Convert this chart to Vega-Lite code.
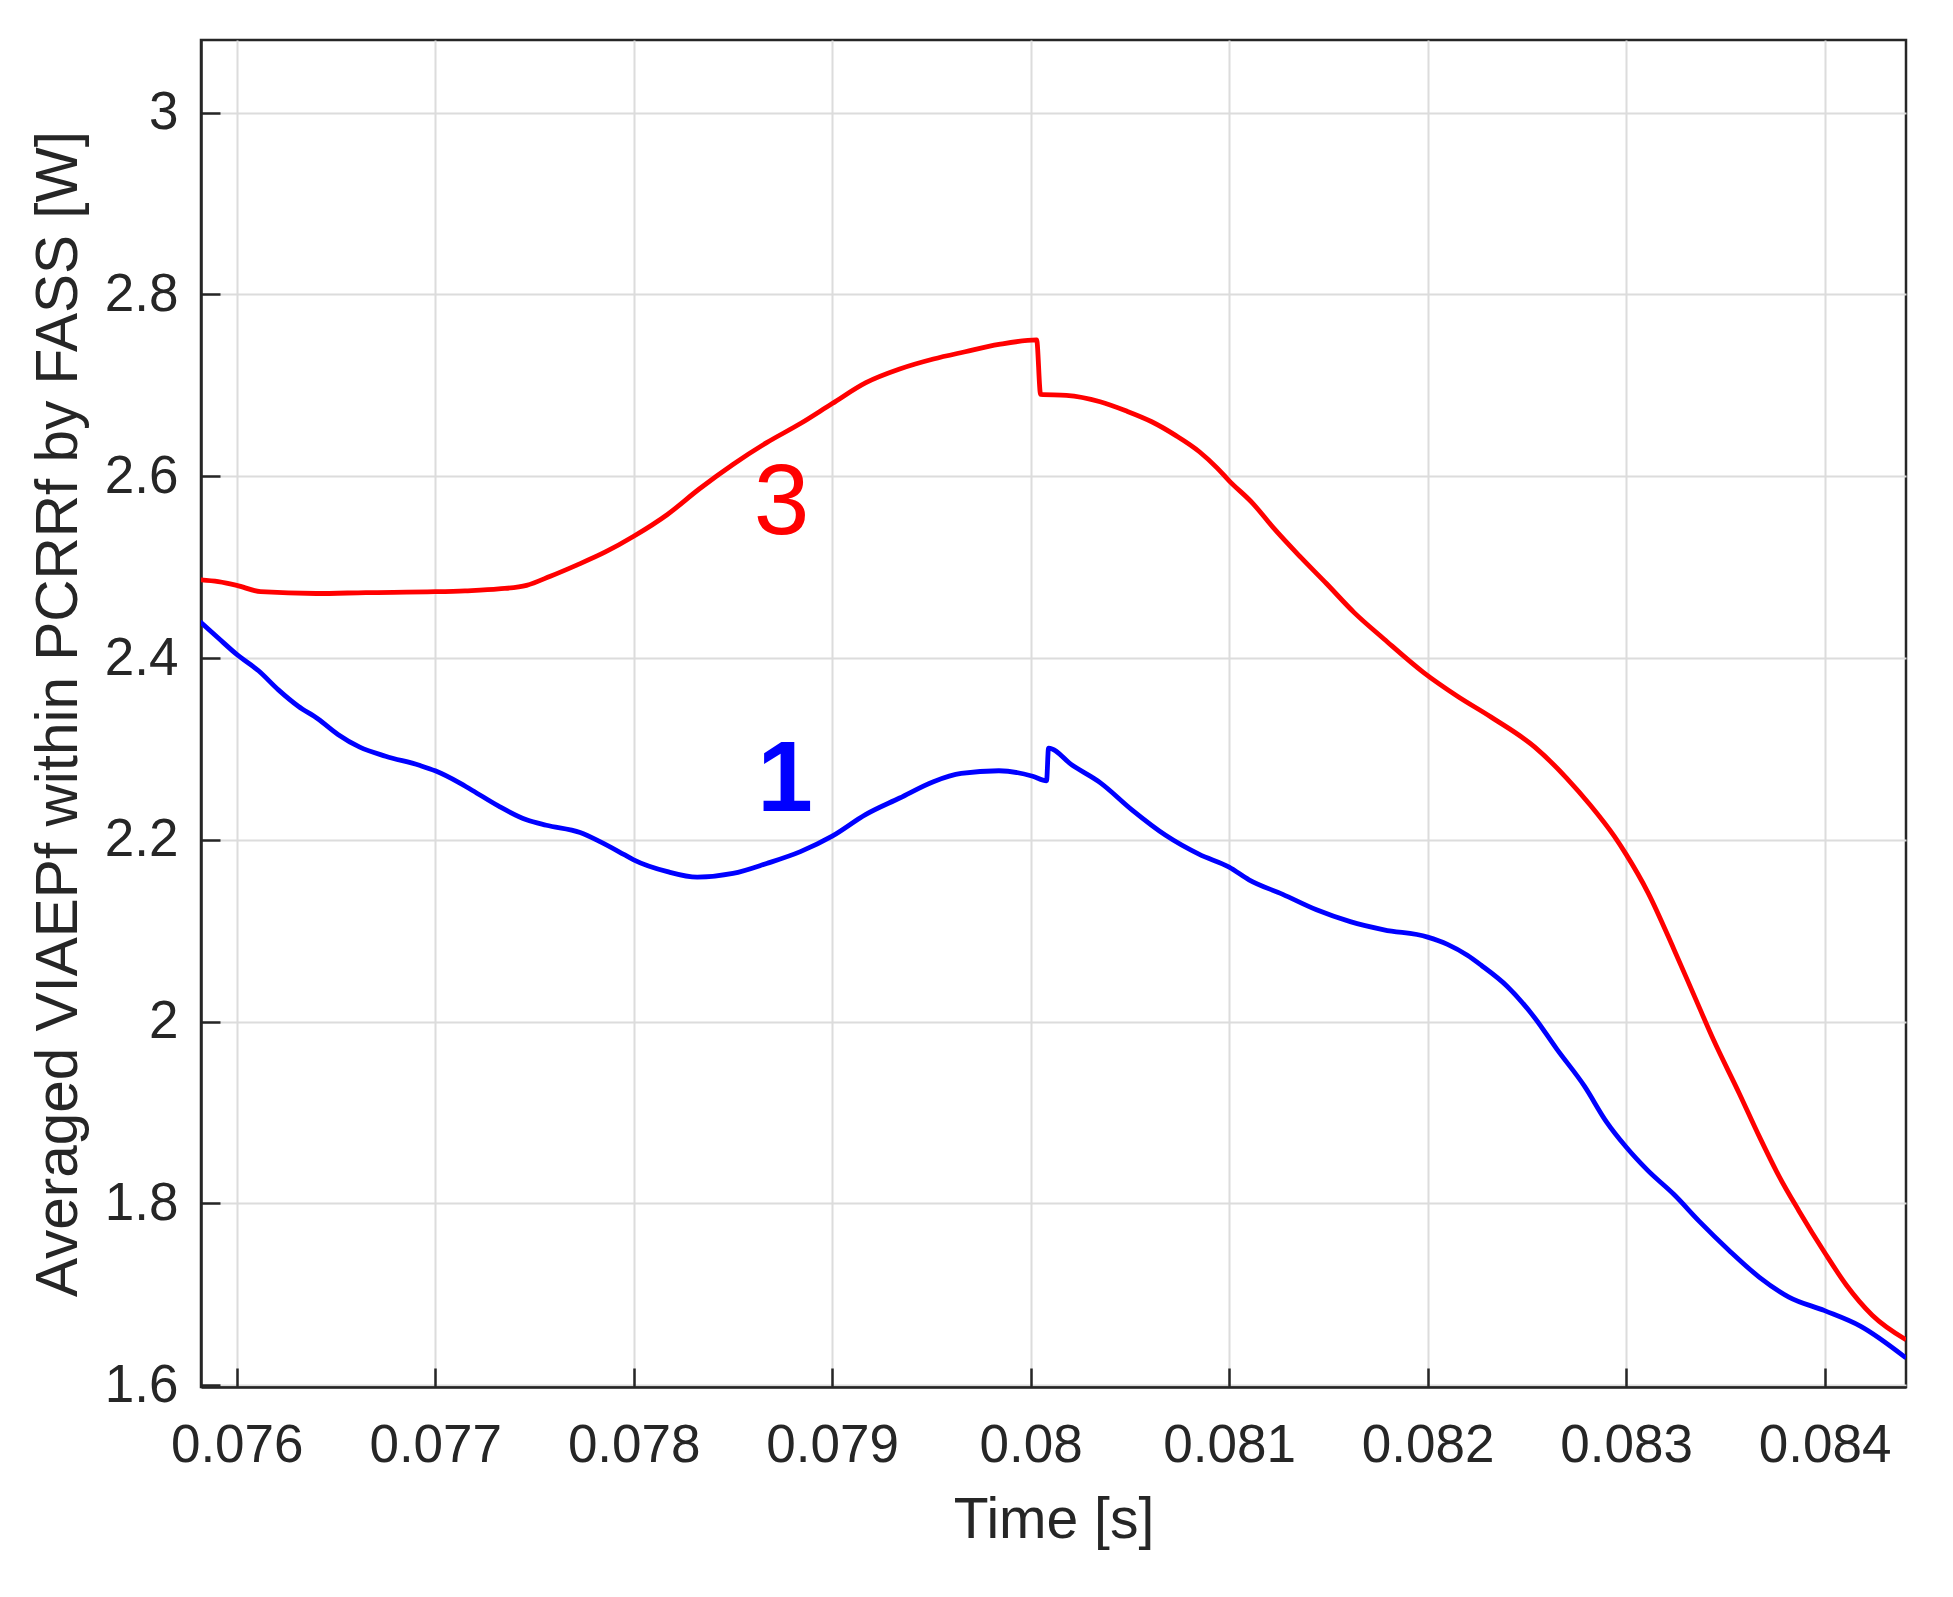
{
  "$schema": "https://vega.github.io/schema/vega-lite/v6.json",
  "autosize": {"type": "none"},
  "width": 1705,
  "height": 1347,
  "padding": {"left": 201, "top": 40, "right": 47, "bottom": 210},
  "background": "white",
  "config": {
    "view": {"stroke": "#262626", "strokeWidth": 2.5},
    "font": "Liberation Sans",
    "axis": {
      "labelFont": "Liberation Sans",
      "titleFont": "Liberation Sans",
      "labelColor": "#262626",
      "titleColor": "#262626",
      "labelFontSize": 53,
      "titleFontSize": 57,
      "titleFontWeight": "normal",
      "domainColor": "#262626",
      "domainWidth": 2.5,
      "tickColor": "#262626",
      "tickWidth": 2.5,
      "tickSize": -19,
      "grid": true,
      "gridColor": "#dcdcdc",
      "gridWidth": 2
    }
  },
  "datasets": {
    "curves": [
      {"series": "3", "t": 0.075815, "v": 2.486},
      {"series": "3", "t": 0.075907, "v": 2.484},
      {"series": "3", "t": 0.076, "v": 2.480},
      {"series": "3", "t": 0.07612, "v": 2.473},
      {"series": "3", "t": 0.0764, "v": 2.471},
      {"series": "3", "t": 0.07665, "v": 2.472},
      {"series": "3", "t": 0.077, "v": 2.473},
      {"series": "3", "t": 0.07715, "v": 2.474},
      {"series": "3", "t": 0.07732, "v": 2.476},
      {"series": "3", "t": 0.07746, "v": 2.480},
      {"series": "3", "t": 0.07758, "v": 2.490},
      {"series": "3", "t": 0.07771, "v": 2.502},
      {"series": "3", "t": 0.07786, "v": 2.517},
      {"series": "3", "t": 0.078, "v": 2.534},
      {"series": "3", "t": 0.07817, "v": 2.558},
      {"series": "3", "t": 0.07833, "v": 2.586},
      {"series": "3", "t": 0.0785, "v": 2.613},
      {"series": "3", "t": 0.07867, "v": 2.637},
      {"series": "3", "t": 0.07884, "v": 2.658},
      {"series": "3", "t": 0.079, "v": 2.680},
      {"series": "3", "t": 0.07917, "v": 2.703},
      {"series": "3", "t": 0.07934, "v": 2.718},
      {"series": "3", "t": 0.07951, "v": 2.729},
      {"series": "3", "t": 0.07967, "v": 2.737},
      {"series": "3", "t": 0.07984, "v": 2.745},
      {"series": "3", "t": 0.08003, "v": 2.750},
      {"series": "3", "t": 0.08005, "v": 2.690},
      {"series": "3", "t": 0.08018, "v": 2.689},
      {"series": "3", "t": 0.08035, "v": 2.682},
      {"series": "3", "t": 0.08048, "v": 2.672},
      {"series": "3", "t": 0.08061, "v": 2.660},
      {"series": "3", "t": 0.08073, "v": 2.645},
      {"series": "3", "t": 0.08085, "v": 2.627},
      {"series": "3", "t": 0.08094, "v": 2.609},
      {"series": "3", "t": 0.081, "v": 2.595},
      {"series": "3", "t": 0.08112, "v": 2.570},
      {"series": "3", "t": 0.08122, "v": 2.544},
      {"series": "3", "t": 0.08136, "v": 2.511},
      {"series": "3", "t": 0.08149, "v": 2.482},
      {"series": "3", "t": 0.08163, "v": 2.450},
      {"series": "3", "t": 0.08178, "v": 2.421},
      {"series": "3", "t": 0.08198, "v": 2.384},
      {"series": "3", "t": 0.08215, "v": 2.358},
      {"series": "3", "t": 0.08232, "v": 2.335},
      {"series": "3", "t": 0.08254, "v": 2.302},
      {"series": "3", "t": 0.0827, "v": 2.268},
      {"series": "3", "t": 0.08282, "v": 2.238},
      {"series": "3", "t": 0.08294, "v": 2.204},
      {"series": "3", "t": 0.083, "v": 2.184},
      {"series": "3", "t": 0.08311, "v": 2.142},
      {"series": "3", "t": 0.08324, "v": 2.080},
      {"series": "3", "t": 0.08334, "v": 2.030},
      {"series": "3", "t": 0.08344, "v": 1.980},
      {"series": "3", "t": 0.08357, "v": 1.921},
      {"series": "3", "t": 0.08367, "v": 1.874},
      {"series": "3", "t": 0.08377, "v": 1.830},
      {"series": "3", "t": 0.08387, "v": 1.792},
      {"series": "3", "t": 0.084, "v": 1.746},
      {"series": "3", "t": 0.08411, "v": 1.710},
      {"series": "3", "t": 0.08424, "v": 1.677},
      {"series": "3", "t": 0.08441, "v": 1.650},
      {"series": "1", "t": 0.075815, "v": 2.440},
      {"series": "1", "t": 0.075907, "v": 2.422},
      {"series": "1", "t": 0.076, "v": 2.404},
      {"series": "1", "t": 0.07611, "v": 2.386},
      {"series": "1", "t": 0.07621, "v": 2.365},
      {"series": "1", "t": 0.07631, "v": 2.347},
      {"series": "1", "t": 0.07641, "v": 2.333},
      {"series": "1", "t": 0.07651, "v": 2.316},
      {"series": "1", "t": 0.07662, "v": 2.302},
      {"series": "1", "t": 0.07675, "v": 2.292},
      {"series": "1", "t": 0.07692, "v": 2.282},
      {"series": "1", "t": 0.077, "v": 2.276},
      {"series": "1", "t": 0.07712, "v": 2.263},
      {"series": "1", "t": 0.07719, "v": 2.254},
      {"series": "1", "t": 0.07732, "v": 2.237},
      {"series": "1", "t": 0.07746, "v": 2.222},
      {"series": "1", "t": 0.07756, "v": 2.216},
      {"series": "1", "t": 0.07773, "v": 2.208},
      {"series": "1", "t": 0.07783, "v": 2.198},
      {"series": "1", "t": 0.07795, "v": 2.184},
      {"series": "1", "t": 0.078, "v": 2.178},
      {"series": "1", "t": 0.07817, "v": 2.165},
      {"series": "1", "t": 0.07832, "v": 2.159},
      {"series": "1", "t": 0.0785, "v": 2.163},
      {"series": "1", "t": 0.07867, "v": 2.174},
      {"series": "1", "t": 0.07884, "v": 2.187},
      {"series": "1", "t": 0.079, "v": 2.204},
      {"series": "1", "t": 0.07917, "v": 2.228},
      {"series": "1", "t": 0.07934, "v": 2.246},
      {"series": "1", "t": 0.07951, "v": 2.264},
      {"series": "1", "t": 0.07965, "v": 2.273},
      {"series": "1", "t": 0.07984, "v": 2.276},
      {"series": "1", "t": 0.08001, "v": 2.270},
      {"series": "1", "t": 0.08008, "v": 2.265},
      {"series": "1", "t": 0.08009, "v": 2.301},
      {"series": "1", "t": 0.08021, "v": 2.282},
      {"series": "1", "t": 0.08035, "v": 2.263},
      {"series": "1", "t": 0.08051, "v": 2.233},
      {"series": "1", "t": 0.08068, "v": 2.205},
      {"series": "1", "t": 0.08085, "v": 2.184},
      {"series": "1", "t": 0.081, "v": 2.170},
      {"series": "1", "t": 0.0811, "v": 2.156},
      {"series": "1", "t": 0.08127, "v": 2.140},
      {"series": "1", "t": 0.08144, "v": 2.123},
      {"series": "1", "t": 0.08161, "v": 2.110},
      {"series": "1", "t": 0.08178, "v": 2.101},
      {"series": "1", "t": 0.082, "v": 2.093},
      {"series": "1", "t": 0.0821, "v": 2.085},
      {"series": "1", "t": 0.0822, "v": 2.073},
      {"series": "1", "t": 0.08227, "v": 2.062},
      {"series": "1", "t": 0.0824, "v": 2.039},
      {"series": "1", "t": 0.08254, "v": 2.004},
      {"series": "1", "t": 0.08265, "v": 1.970},
      {"series": "1", "t": 0.08279, "v": 1.929},
      {"series": "1", "t": 0.0829, "v": 1.890},
      {"series": "1", "t": 0.083, "v": 1.862},
      {"series": "1", "t": 0.08311, "v": 1.836},
      {"series": "1", "t": 0.08324, "v": 1.810},
      {"series": "1", "t": 0.08337, "v": 1.780},
      {"series": "1", "t": 0.08352, "v": 1.748},
      {"series": "1", "t": 0.08367, "v": 1.719},
      {"series": "1", "t": 0.08382, "v": 1.697},
      {"series": "1", "t": 0.084, "v": 1.682},
      {"series": "1", "t": 0.08418, "v": 1.665},
      {"series": "1", "t": 0.08441, "v": 1.630}
    ],
    "labels": [
      {"series": "3", "t": 0.078745, "v": 2.569, "label": "3"},
      {"series": "1", "t": 0.078762, "v": 2.265, "label": "1"}
    ]
  },
  "encoding": {
    "x": {
      "field": "t",
      "type": "quantitative",
      "scale": {"domain": [0.07582, 0.08441], "nice": false, "zero": false},
      "axis": {
        "title": "Time [s]",
        "values": [0.076, 0.077, 0.078, 0.079, 0.08, 0.081, 0.082, 0.083, 0.084],
        "format": "~g",
        "labelPadding": 51,
        "titlePadding": 20,
        "labelFlush": false
      }
    },
    "y": {
      "field": "v",
      "type": "quantitative",
      "scale": {"domain": [1.598, 3.08], "nice": false, "zero": false},
      "axis": {
        "title": "Averaged VIAEPf within PCRRf by FASS [W]",
        "titleFontSize": 58.5,
        "values": [1.6, 1.8, 2, 2.2, 2.4, 2.6, 2.8, 3],
        "format": "~g",
        "labelPadding": 42,
        "titlePadding": 16,
        "labelFlush": false
      }
    },
    "color": {
      "field": "series",
      "type": "nominal",
      "scale": {"domain": ["1", "3"], "range": ["#0000ff", "#ff0000"]},
      "legend": null
    }
  },
  "layer": [
    {
      "data": {"name": "curves"},
      "mark": {"type": "line", "strokeWidth": 4.8, "clip": true, "interpolate": "monotone"}
    },
    {
      "data": {"name": "labels"},
      "transform": [{"filter": "datum.label == '3'"}],
      "mark": {"type": "text", "fontSize": 100, "font": "Liberation Sans", "align": "center", "baseline": "middle"},
      "encoding": {"text": {"field": "label"}}
    },
    {
      "data": {"name": "labels"},
      "transform": [{"filter": "datum.label == '1'"}],
      "mark": {"type": "text", "fontSize": 100, "fontWeight": "bold", "font": "Liberation Sans", "align": "center", "baseline": "middle"},
      "encoding": {"text": {"field": "label"}}
    }
  ]
}
